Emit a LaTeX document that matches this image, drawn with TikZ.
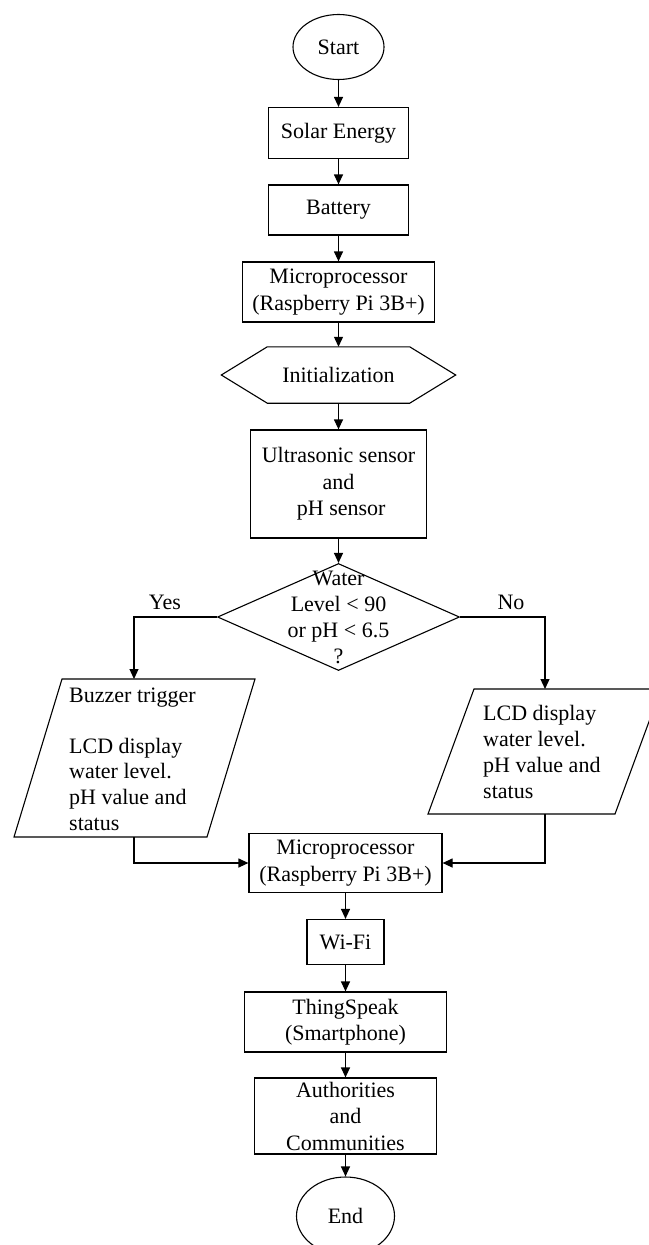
\documentclass[tikz,border=0pt]{standalone}
\usepackage{fontspec}
\setmainfont{Liberation Serif}
\usetikzlibrary{arrows.meta,shapes.geometric}
\begin{document}
\begin{tikzpicture}[x=1pt,y=-1pt,
  font=\fontsize{22}{26.5}\selectfont,
  box/.style={draw, line width=1.2pt, rectangle, inner sep=0pt, align=center},
  oval/.style={draw, ellipse, inner sep=0pt, line width=1.1pt},
  shp/.style={draw, line width=1.1pt},
  arr/.style={line width=1.2pt, -{Triangle[length=10pt,width=9pt]}},
  txt/.style={inner sep=0pt, align=center}]
\useasboundingbox (0,0) rectangle (648,1245);

% upper column
\node[oval, minimum width=91pt, minimum height=65pt] (start) at (338.5,47) {Start};
\node[box, minimum width=140pt, minimum height=51pt] (solar) at (338.5,133) {Solar Energy};
\node[box, minimum width=140pt, minimum height=50pt] (bat) at (338.5,210) {Battery};
\node[box, minimum width=192pt, minimum height=60pt] (mp1) at (338.5,292) {Microprocessor\\(Raspberry Pi 3B+)};
\node[txt, minimum width=234pt, minimum height=56pt] (init) at (338.5,375) {Initialization};
\draw[shp] (init.west) -- ([xshift=46pt]init.north west) -- ([xshift=-46pt]init.north east)
  -- (init.east) -- ([xshift=-46pt]init.south east) -- ([xshift=46pt]init.south west) -- cycle;
\node[box, minimum width=176pt, minimum height=108pt] (ultra) at (338.5,484) {Ultrasonic sensor\\and\\\ pH sensor};
\node[shp, diamond, minimum width=242pt, minimum height=107pt, inner sep=0pt] (dec) at (338.5,617) {};
\node[txt, font=\fontsize{22}{26}\selectfont] (dect) at (338.5,617) {Water\\Level < 90\\or pH < 6.5\\?};

\draw[arr] (start) -- (solar);
\draw[arr] (solar) -- (bat);
\draw[arr] (bat) -- (mp1);
\draw[arr] (mp1) -- (init);
\draw[arr] (init) -- (ultra);
\draw[arr] (ultra) -- (dec);

% left branch
\draw[shp] (62,679) -- (255,679) -- (207,837) -- (14,837) -- cycle;
\coordinate (buzin) at (134,679);
\coordinate (buzout) at (134,837);
\node[inner sep=0pt, align=left, anchor=west, font=\fontsize{22}{25.6}\selectfont] (buzt) at (69,759)
  {Buzzer trigger\\[25.6pt]LCD display\\water level.\\pH value and\\status};

% right branch
\draw[shp] (474,689) -- (661,689) -- (615,814) -- (428,814) -- cycle;
\coordinate (lcdin) at (545,689);
\coordinate (lcdout) at (545,814);
\node[inner sep=0pt, align=left, anchor=west, font=\fontsize{22}{26}\selectfont] (lcdt) at (483,752)
  {LCD display\\water level.\\pH value and\\status};

\draw[arr] (dec.west) -| (buzin);
\draw[arr] (dec.east) -| (lcdin);
\node[txt] (yes) at (165,602) {Yes};
\node[txt] (no) at (511,602) {No};

% lower column
\node[box, minimum width=193pt, minimum height=59pt] (mp2) at (345.5,863) {Microprocessor\\(Raspberry Pi 3B+)};
\node[box, minimum width=77pt, minimum height=45pt] (wifi) at (345.5,942) {Wi-Fi};
\node[box, minimum width=202pt, minimum height=60pt] (thing) at (345.5,1022) {ThingSpeak\\(Smartphone)};
\node[box, minimum width=182pt, minimum height=76pt] (auth) at (345.5,1116) {Authorities\\and\\Communities};
\node[oval, minimum width=98pt, minimum height=78pt] (end) at (345.5,1216) {End};

\draw[arr] (buzout) |- (mp2.west);
\draw[arr] (lcdout) |- (mp2.east);
\draw[arr] (mp2) -- (wifi);
\draw[arr] (wifi) -- (thing);
\draw[arr] (thing) -- (auth);
\draw[arr] (auth) -- (end);
\end{tikzpicture}
\end{document}
